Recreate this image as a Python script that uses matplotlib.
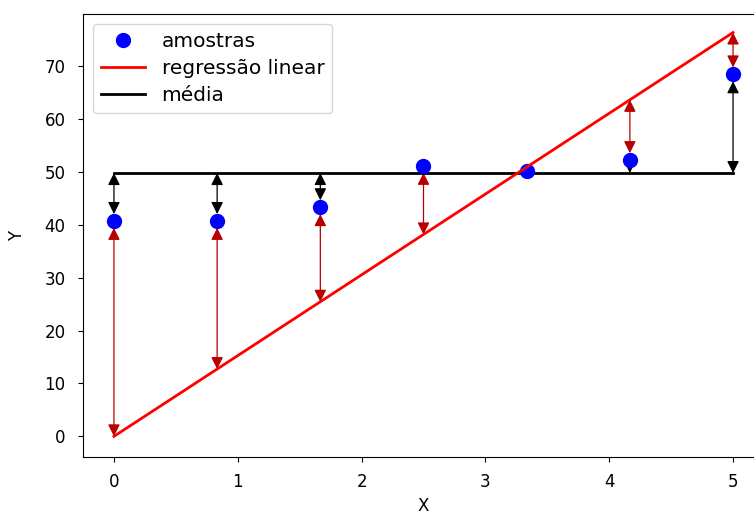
import numpy as np
import matplotlib
matplotlib.use("Agg")
import matplotlib.pyplot as plt

# data
x = [0.0, 0.8333, 1.6667, 2.5, 3.3333, 4.1667, 5.0]
y = [40.7, 40.7, 43.3, 51.1, 50.1, 52.2, 68.4]
reg_x = [0.0, 5.0]
reg_y = [0.0, 76.3]
mean_y = 49.75
slope = (reg_y[1] - reg_y[0]) / (reg_x[1] - reg_x[0])

fig = plt.figure(figsize=(7.54, 5.16), dpi=100)
ax = fig.add_axes([83/754, (516-457)/516, 681/754, 443/516])

ax.plot(x, y, 'o', color='blue', markersize=10, label='amostras', zorder=4)
ax.plot(reg_x, reg_y, '-', color='red', lw=2, label='regressão linear', zorder=5)
ax.plot([x[0], x[-1]], [mean_y, mean_y], '-', color='black', lw=2, label='média', zorder=3)


def residual_arrow(xi, yi, target, color):
    d = abs(yi - target)
    if d < 2.0:
        # residual hidden under the marker
        return
    if d < 3.0:
        # short residual: only the head at the line end stays visible
        props = dict(arrowstyle='-|>', color=color, lw=0.9,
                     shrinkA=0, shrinkB=0, mutation_scale=18)
        ax.annotate('', xy=(xi, target), xytext=(xi, yi), arrowprops=props, zorder=2)
    else:
        props = dict(arrowstyle='<|-|>', color=color, lw=0.9,
                     shrinkA=0, shrinkB=5, mutation_scale=18)
        ax.annotate('', xy=(xi, yi), xytext=(xi, target), arrowprops=props, zorder=2)


for xi, yi in zip(x, y):
    residual_arrow(xi, yi, mean_y, 'black')
    residual_arrow(xi, yi, slope * xi, '#b80000')

ax.set_ylim(-3.9, 79.8)
ax.set_xlabel('X', fontsize=12)
ax.set_ylabel('Y', fontsize=12)
ax.xaxis.set_label_coords(0.5, (457 - 497) / 443)
ax.yaxis.set_label_coords((26 - 83) / 681, 0.5)
ax.tick_params(axis='both', labelsize=12)
ax.tick_params(axis='y', pad=9)
ax.tick_params(axis='x', pad=8)
ax.legend(loc='upper left', fontsize=14.5, handlelength=2.2, labelspacing=0.4,
          borderaxespad=0.5)

fig.savefig('out.png', dpi=100)
